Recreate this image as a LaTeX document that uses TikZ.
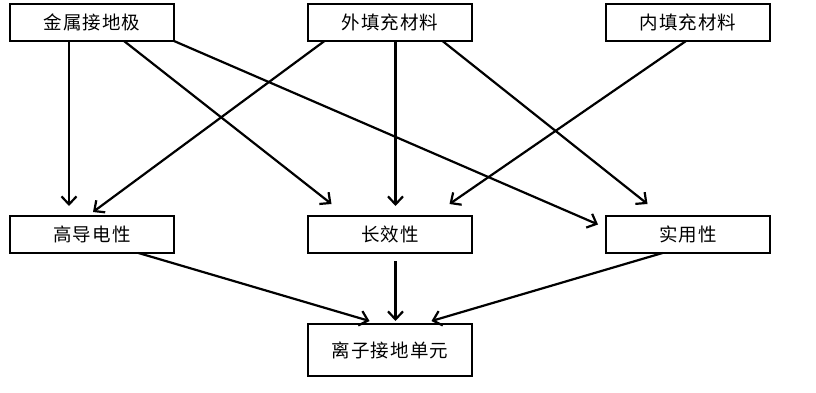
\documentclass[tikz,border=0pt]{standalone}
\usepackage{fontspec}
\newfontfamily\cjk[LetterSpace=6]{Noto Sans CJK SC}
\usetikzlibrary{arrows.meta,positioning}

\begin{document}
\begin{tikzpicture}[x=1pt, y=-1pt,
  box/.style={draw, line width=2.2pt, outer sep=0pt, minimum width=164pt, minimum height=37pt, inner sep=0pt, align=center, font=\cjk\fontsize{18.5}{20}\selectfont},
  arrow/.style={-{Straight Barb[length=8pt, width=15pt]}, line width=2.2pt},
  node distance=175pt and 134pt]
  \useasboundingbox (0,0) rectangle (816,393);
  \node[box] at (92,22.5) (metal) {金属接地极};
  \node[box, right=of metal] (outer) {外填充材料};
  \node[box, right=of outer] (inner) {内填充材料};
  \node[box, below=of metal] (cond) {高导电性};
  \node[box, below=of outer] (life) {长效性};
  \node[box, below=of inner] (prac) {实用性};
  \node[box, below=71pt of life, minimum height=52pt] (unit) {离子接地单元};
  % top row to middle row
  \draw[arrow] ([xshift=-23pt]metal.south) -- ([xshift=-23pt, yshift=10pt]cond.north);
  \draw[arrow] ([xshift=32pt]metal.south) -- ([xshift=-58.5pt, yshift=12pt]life.north);
  \draw[arrow] (metal.south east) -- ([xshift=-8pt, yshift=10pt]prac.west);
  \draw[arrow] ([xshift=-65.5pt]outer.south) -- ([xshift=1pt, yshift=4pt]cond.north);
  \draw[arrow] ([xshift=5.5pt]outer.south) -- ([xshift=5.5pt, yshift=10pt]life.north);
  \draw[arrow] ([xshift=52.5pt]outer.south) -- ([xshift=-40.5pt, yshift=12pt]prac.north);
  \draw[arrow] ([xshift=-2pt]inner.south) -- ([xshift=59.5pt, yshift=12pt]life.north);
  % middle row to unit
  \draw[arrow] ([xshift=46.5pt]cond.south) -- ([xshift=-20.5pt, yshift=3pt]unit.north);
  \draw[arrow] ([xshift=5.5pt, yshift=-8pt]life.south) -- ([xshift=5.5pt, yshift=3pt]unit.north);
  \draw[arrow] ([xshift=-25.5pt]prac.south) -- ([xshift=41.5pt, yshift=3pt]unit.north);
\end{tikzpicture}
\end{document}
